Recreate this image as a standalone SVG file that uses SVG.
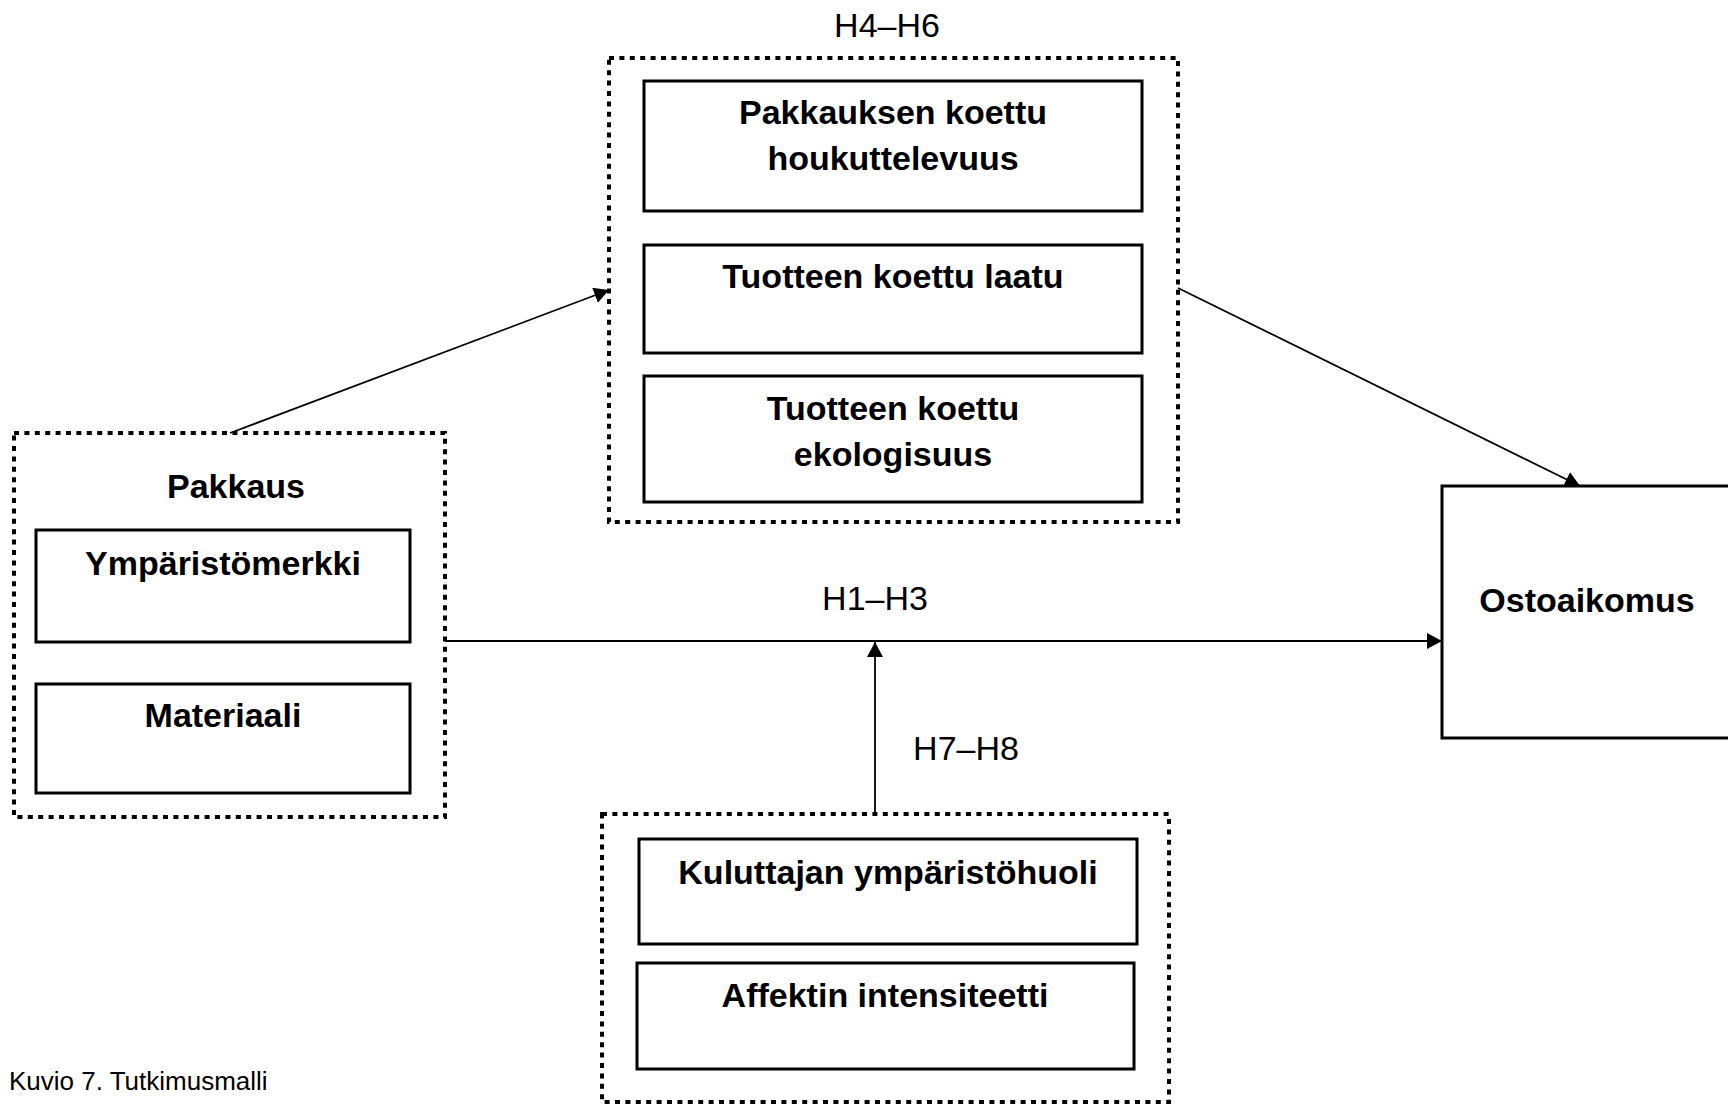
<svg xmlns="http://www.w3.org/2000/svg" width="1728" height="1104" viewBox="0 0 1728 1104">
  <style>
    .bg { fill: #ffffff; }
    .group { fill: none; stroke: #000; stroke-width: 4; stroke-dasharray: 5 5.4; }
    .box { fill: #ffffff; stroke: #000; stroke-width: 3; }
    .link { fill: none; stroke: #000; stroke-width: 1.8; }
    .b { font-family: "Liberation Sans", Arial, sans-serif; font-weight: bold; font-size: 34px; fill: #000; text-anchor: middle; }
    .r { font-family: "Liberation Sans", Arial, sans-serif; font-size: 34px; fill: #000; text-anchor: middle; }
    .cap { font-family: "Liberation Sans", Arial, sans-serif; font-size: 26px; fill: #000; }
  </style>
  <defs>
    <marker id="arrow" markerUnits="userSpaceOnUse" markerWidth="15" markerHeight="16" refX="15" refY="8" orient="auto">
      <path d="M0,0 L15,8 L0,16 z" fill="#000"/>
    </marker>
  </defs>

  <rect class="bg" x="0" y="0" width="1728" height="1104"/>

  <!-- Mediators H4–H6 -->
  <g id="mediators">
    <text class="r" x="887" y="37">H4–H6</text>
    <rect class="group" x="609" y="58" width="569" height="464"/>
    <g id="houkuttelevuus">
      <rect class="box" x="644" y="81" width="498" height="130"/>
      <text class="b" x="893" y="124">Pakkauksen koettu</text>
      <text class="b" x="893" y="170">houkuttelevuus</text>
    </g>
    <g id="laatu">
      <rect class="box" x="644" y="245" width="498" height="108"/>
      <text class="b" x="893" y="288">Tuotteen koettu laatu</text>
    </g>
    <g id="ekologisuus">
      <rect class="box" x="644" y="376" width="498" height="126"/>
      <text class="b" x="893" y="420">Tuotteen koettu</text>
      <text class="b" x="893" y="466">ekologisuus</text>
    </g>
  </g>

  <!-- Packaging -->
  <g id="pakkaus">
    <rect class="group" x="14" y="433" width="431" height="384"/>
    <text class="b" x="236" y="498">Pakkaus</text>
    <g id="ymparistomerkki">
      <rect class="box" x="36" y="530" width="374" height="112"/>
      <text class="b" x="223" y="575">Ympäristömerkki</text>
    </g>
    <g id="materiaali">
      <rect class="box" x="36" y="684" width="374" height="109"/>
      <text class="b" x="223" y="727">Materiaali</text>
    </g>
  </g>

  <!-- Outcome -->
  <g id="ostoaikomus">
    <rect class="box" x="1442" y="486" width="300" height="252"/>
    <text class="b" x="1587" y="612">Ostoaikomus</text>
  </g>

  <!-- Moderators H7–H8 -->
  <g id="moderators">
    <rect class="group" x="602" y="814" width="567" height="288"/>
    <g id="ymparistohuoli">
      <rect class="box" x="639" y="839" width="498" height="105"/>
      <text class="b" x="888" y="884">Kuluttajan ympäristöhuoli</text>
    </g>
    <g id="affekti">
      <rect class="box" x="637" y="963" width="497" height="106"/>
      <text class="b" x="885" y="1007">Affektin intensiteetti</text>
    </g>
  </g>

  <!-- Connectors -->
  <g id="connectors">
    <line class="link" x1="230" y1="433" x2="609" y2="290" marker-end="url(#arrow)"/>
    <line class="link" x1="1178" y1="288" x2="1580" y2="486" marker-end="url(#arrow)"/>
    <line class="link" x1="445" y1="641" x2="1442" y2="641" marker-end="url(#arrow)"/>
    <line class="link" x1="875" y1="814" x2="875" y2="642" marker-end="url(#arrow)"/>
    <text class="r" x="875" y="610">H1–H3</text>
    <text class="r" x="966" y="760">H7–H8</text>
  </g>

  <text class="cap" x="9" y="1090">Kuvio 7. Tutkimusmalli</text>
</svg>
